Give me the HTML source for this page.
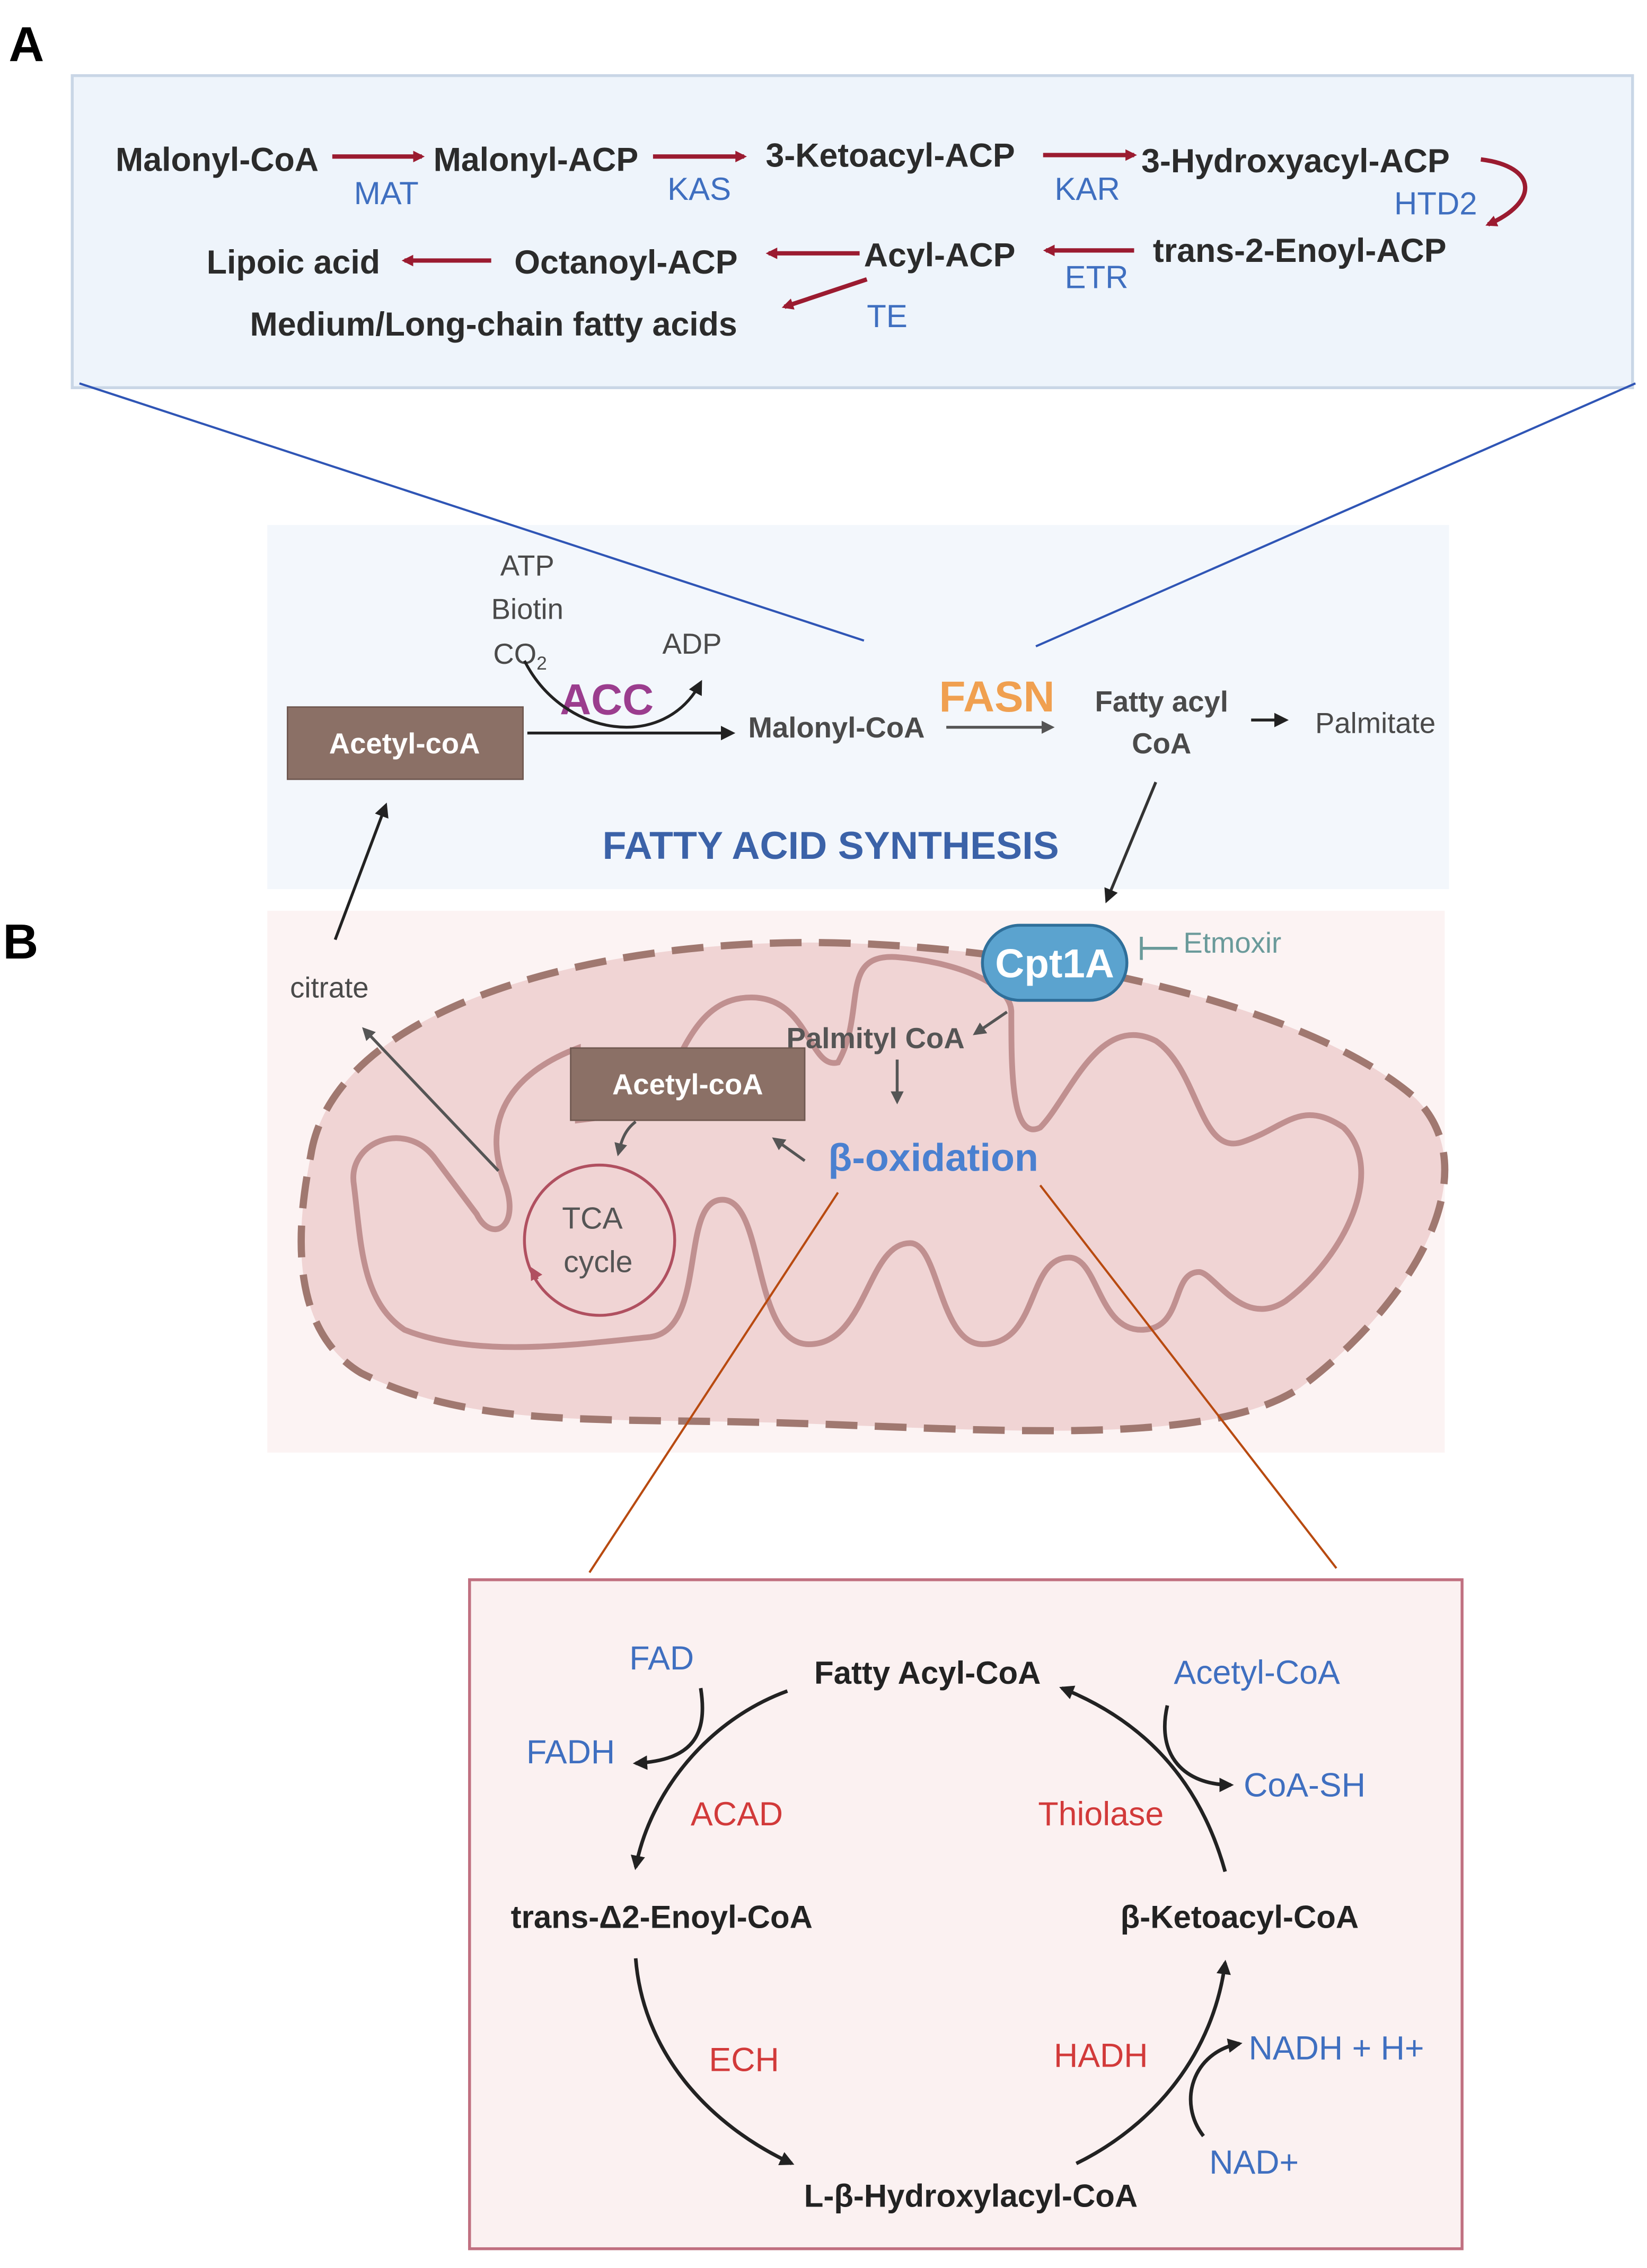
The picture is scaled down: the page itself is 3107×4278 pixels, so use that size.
<!DOCTYPE html>
<html><head><meta charset="utf-8"><style>
html,body{margin:0;padding:0;background:#fff;}
svg{display:block;}
text{font-family:"Liberation Sans",sans-serif;}
.b{font-weight:bold;fill:#2b2b2b;}
.g{fill:#4a4a4a;}
.bl{fill:#3f6fc0;}
.rd{fill:#d23a3a;}
</style></head><body>
<svg width="3107" height="4278" viewBox="0 0 1140 1569" xmlns="http://www.w3.org/2000/svg">
<defs>
<marker id="ar" markerWidth="8" markerHeight="8" refX="6" refY="4" orient="auto" markerUnits="userSpaceOnUse"><path d="M0,0 L8,4 L0,8 z" fill="#9b1b30"/></marker>
<marker id="ak" markerWidth="10" markerHeight="10" refX="8" refY="5" orient="auto" markerUnits="userSpaceOnUse"><path d="M0,0 L10,5 L0,10 z" fill="#222"/></marker>
<marker id="ag" markerWidth="9" markerHeight="9" refX="7" refY="4.5" orient="auto" markerUnits="userSpaceOnUse"><path d="M0,0 L9,4.5 L0,9 z" fill="#555"/></marker>
<marker id="ap" markerWidth="9" markerHeight="9" refX="7" refY="4.5" orient="auto" markerUnits="userSpaceOnUse"><path d="M0,0 L9,4.5 L0,9 z" fill="#b05060"/></marker>
</defs>
<rect width="1140" height="1569" fill="#fff"/>
<text x="6" y="42" font-size="34" font-weight="bold" fill="#000">A</text>
<text x="2" y="663" font-size="34" font-weight="bold" fill="#000">B</text>

<!-- Panel A -->
<rect x="50" y="52" width="1080" height="216" fill="#eef4fb" stroke="#c9d6e6" stroke-width="2"/>
<g font-size="23" class="b">
<text x="80" y="118" class="b">Malonyl-CoA</text>
<text x="300" y="118" class="b">Malonyl-ACP</text>
<text x="530" y="115" class="b">3-Ketoacyl-ACP</text>
<text x="790" y="119" class="b">3-Hydroxyacyl-ACP</text>
<text x="143" y="189" class="b">Lipoic acid</text>
<text x="356" y="189" class="b">Octanoyl-ACP</text>
<text x="598" y="184" class="b">Acyl-ACP</text>
<text x="798" y="181" class="b">trans-2-Enoyl-ACP</text>
<text x="173" y="232" class="b">Medium/Long-chain fatty acids</text>
</g>
<g font-size="22" class="bl">
<text x="245" y="141" class="bl">MAT</text>
<text x="462" y="138" class="bl">KAS</text>
<text x="730" y="138" class="bl">KAR</text>
<text x="965" y="148" class="bl">HTD2</text>
<text x="737" y="199" class="bl">ETR</text>
<text x="600" y="226" class="bl">TE</text>
</g>
<g stroke="#9b1b30" stroke-width="3" fill="none" marker-end="url(#ar)">
<line x1="230" y1="108" x2="292" y2="108"/>
<line x1="452" y1="108" x2="515" y2="108"/>
<line x1="722" y1="107" x2="785" y2="107"/>
<path d="M1025,110 C1065,115 1065,140 1030,155"/>
<line x1="340" y1="180" x2="280" y2="180"/>
<line x1="595" y1="175" x2="532" y2="175"/>
<line x1="785" y1="173" x2="724" y2="173"/>
<line x1="600" y1="193" x2="543" y2="212"/>
</g>

<!-- FAS box -->
<rect x="185" y="363" width="818" height="252" fill="#f3f7fc"/>
<rect x="185" y="630" width="815" height="375" fill="#fcf3f3"/>
<line x1="55" y1="265" x2="598" y2="443" stroke="#2f55b5" stroke-width="1.5"/>
<line x1="1132" y1="265" x2="717" y2="447" stroke="#2f55b5" stroke-width="1.5"/>
<rect x="199" y="489" width="163" height="50" fill="#8b7066" stroke="#6f5850"/>
<text x="280" y="521" text-anchor="middle" font-size="20" font-weight="bold" fill="#fff">Acetyl-coA</text>
<g font-size="20" class="g" text-anchor="middle">
<text x="365" y="398" class="g">ATP</text>
<text x="365" y="428" class="g">Biotin</text>
<text x="360" y="459" class="g">CO<tspan font-size="13" dy="4">2</tspan></text>
<text x="479" y="452" class="g">ADP</text>
<text x="579" y="510" class="g" font-weight="bold" fill="#666">Malonyl-CoA</text>
<text x="804" y="492" class="g" font-weight="bold">Fatty acyl</text>
<text x="804" y="521" class="g" font-weight="bold">CoA</text>
<text x="952" y="507" class="g">Palmitate</text>
<text x="228" y="690" class="g">citrate</text>
</g>
<text x="420" y="494" text-anchor="middle" font-size="30" font-weight="bold" fill="#9b3d8e">ACC</text>
<text x="690" y="492" text-anchor="middle" font-size="30" font-weight="bold" fill="#f0a050">FASN</text>
<text x="575" y="594" text-anchor="middle" font-size="27" font-weight="bold" fill="#3b62a8">FATTY ACID SYNTHESIS</text>
<path d="M363,457 C390,510 460,520 485,472" stroke="#222" stroke-width="2" fill="none" marker-end="url(#ak)"/>
<line x1="365" y1="507" x2="507" y2="507" stroke="#222" stroke-width="2" marker-end="url(#ak)"/>
<line x1="655" y1="503" x2="728" y2="503" stroke="#555" stroke-width="2" marker-end="url(#ag)"/>
<line x1="866" y1="498" x2="890" y2="498" stroke="#222" stroke-width="2" marker-end="url(#ak)"/>
<line x1="800" y1="541" x2="766" y2="623" stroke="#333" stroke-width="2" marker-end="url(#ak)"/>
<line x1="232" y1="650" x2="267" y2="557" stroke="#222" stroke-width="2" marker-end="url(#ak)"/>

<!-- Mitochondrion -->
<path d="M215,800 C230,700 400,652 560,652 C700,652 900,690 980,760 C1030,810 980,900 900,960 C840,1000 700,990 560,985 C420,980 330,990 250,950 C200,920 205,850 215,800 Z" fill="#f0d4d4" stroke="#a07870" stroke-width="5" stroke-dasharray="22,12"/>
<path d="M245,820 C240,790 280,775 300,800 L330,840 C340,860 360,850 350,820 C330,770 360,740 400,725 L400,775 L440,770 C470,760 470,690 520,690 C560,690 560,740 580,735 C600,700 580,660 620,662 C660,665 700,680 700,700 C700,740 700,790 720,780 C740,760 760,700 800,720 C830,740 830,800 860,790 C890,780 900,760 930,780 C960,810 930,870 890,900 C860,920 840,880 830,880 C810,880 820,920 790,920 C760,920 760,870 740,870 C710,870 720,930 680,930 C650,930 650,860 630,860 C600,860 600,930 560,930 C520,930 530,830 500,830 C470,830 490,920 450,925 C400,930 330,940 280,920 C250,900 250,860 245,820 Z" fill="none" stroke="#c09090" stroke-width="4"/>
<rect x="680" y="640" width="100" height="52" rx="26" fill="#5ba3cf" stroke="#2f6f9a" stroke-width="2"/>
<text x="730" y="676" text-anchor="middle" font-size="28" font-weight="bold" fill="#fff">Cpt1A</text>
<line x1="790" y1="656" x2="815" y2="656" stroke="#6a9a9a" stroke-width="2"/>
<line x1="790" y1="648" x2="790" y2="664" stroke="#6a9a9a" stroke-width="2"/>
<text x="853" y="659" text-anchor="middle" font-size="20" fill="#6a9a9a">Etmoxir</text>
<text x="606" y="725" text-anchor="middle" font-size="20" font-weight="bold" fill="#555">Palmityl CoA</text>
<line x1="697" y1="700" x2="675" y2="715" stroke="#555" stroke-width="2" marker-end="url(#ag)"/>
<line x1="621" y1="733" x2="621" y2="762" stroke="#555" stroke-width="2" marker-end="url(#ag)"/>
<rect x="395" y="725" width="162" height="50" fill="#8b7066" stroke="#6f5850"/>
<text x="476" y="757" text-anchor="middle" font-size="20" font-weight="bold" fill="#fff">Acetyl-coA</text>
<text x="646" y="810" text-anchor="middle" font-size="27" font-weight="bold" fill="#4a80d0">β-oxidation</text>
<line x1="557" y1="803" x2="536" y2="788" stroke="#555" stroke-width="2" marker-end="url(#ag)"/>
<path d="M440,776 C432,782 430,790 428,798" stroke="#555" stroke-width="2" fill="none" marker-end="url(#ag)"/>
<circle cx="415" cy="858" r="52" fill="none" stroke="#b05060" stroke-width="2"/>
<path d="M372,885 L368,878" stroke="#b05060" stroke-width="2" marker-end="url(#ap)"/>
<text x="410" y="850" text-anchor="middle" font-size="21" fill="#555">TCA</text>
<text x="414" y="880" text-anchor="middle" font-size="21" fill="#555">cycle</text>
<line x1="345" y1="810" x2="252" y2="712" stroke="#555" stroke-width="2" marker-end="url(#ag)"/>

<line x1="580" y1="825" x2="408" y2="1088" stroke="#b84a10" stroke-width="1.5"/>
<line x1="720" y1="820" x2="925" y2="1085" stroke="#b84a10" stroke-width="1.5"/>

<!-- Beta oxidation box -->
<rect x="325" y="1093" width="687" height="463" fill="#fbf1f1" stroke="#c07080" stroke-width="2"/>
<g font-size="22" font-weight="bold" fill="#222" text-anchor="middle">
<text x="642" y="1165">Fatty Acyl-CoA</text>
<text x="458" y="1334">trans-Δ2-Enoyl-CoA</text>
<text x="858" y="1334">β-Ketoacyl-CoA</text>
<text x="672" y="1527">L-β-Hydroxylacyl-CoA</text>
</g>
<g font-size="23" text-anchor="middle">
<text x="458" y="1155" class="bl">FAD</text>
<text x="395" y="1220" class="bl">FADH</text>
<text x="870" y="1165" class="bl">Acetyl-CoA</text>
<text x="903" y="1243" class="bl">CoA-SH</text>
<text x="925" y="1425" class="bl">NADH + H+</text>
<text x="868" y="1504" class="bl">NAD+</text>
<text x="510" y="1263" class="rd">ACAD</text>
<text x="762" y="1263" class="rd">Thiolase</text>
<text x="515" y="1433" class="rd">ECH</text>
<text x="762" y="1430" class="rd">HADH</text>
</g>
<g stroke="#222" stroke-width="2.5" fill="none" marker-end="url(#ak)">
<path d="M545,1170 C490,1190 450,1240 440,1292"/>
<path d="M440,1355 C445,1420 490,1470 548,1497"/>
<path d="M745,1497 C800,1470 840,1420 848,1358"/>
<path d="M848,1295 C830,1230 790,1190 735,1168"/>
<path d="M485,1168 C490,1200 480,1218 440,1220"/>
<path d="M808,1180 C800,1215 820,1235 852,1235"/>
<path d="M833,1478 C815,1455 825,1420 858,1414"/>
</g>
</svg>
</body></html>
